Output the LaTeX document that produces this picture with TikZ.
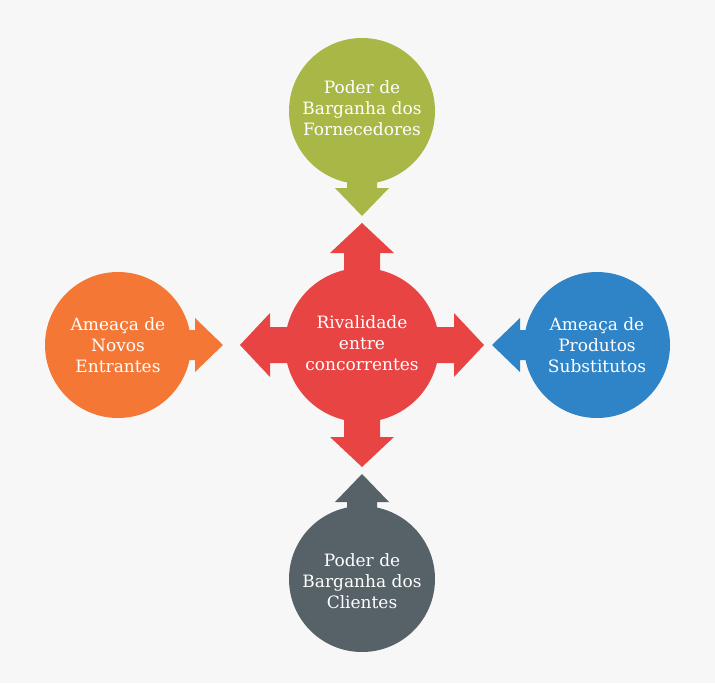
\documentclass[tikz,border=0pt]{standalone}
\usepackage{fontspec}
\setmainfont{DejaVu Serif}
\definecolor{bgc}{HTML}{F7F7F7}
\definecolor{cgreen}{HTML}{A9B747}
\definecolor{cred}{HTML}{E84444}
\definecolor{corange}{HTML}{F47735}
\definecolor{cblue}{HTML}{2F84C8}
\definecolor{cgrey}{HTML}{576168}
\newcommand{\forcearrow}[7]{% node, angle, start, base, tip, stem hw, head hw
  \begin{scope}[shift={(#1)}, rotate=#2]
    \fill (#3,-#6) -- (#4,-#6) -- (#4,-#7) -- (#5,0) -- (#4,#7) -- (#4,#6) -- (#3,#6) -- cycle;
  \end{scope}}
\begin{document}
\begin{tikzpicture}[x=1pt,y=-1pt,
  force/.style={circle, minimum size=146pt, inner sep=0pt},
  rival/.style={force, minimum size=154pt},
  label/.style={text=white, align=center, font=\fontsize{17}{21}\selectfont}]
\fill[bgc] (0,0) rectangle (715,683);
\useasboundingbox (0,0) rectangle (715,683);
\node[force, fill=cgreen] (forn) at (362,111) {};
\node[force, fill=cgrey] (cli) at (362,579) {};
\node[force, fill=corange] (novos) at (118,345) {};
\node[force, fill=cblue] (subs) at (597,345) {};
\node[rival, fill=cred] (riv) at (362,345) {};
\begin{scope}[cgreen] \forcearrow{forn}{-90}{65}{77}{105}{15}{27} \end{scope}
\begin{scope}[cgrey] \forcearrow{cli}{90}{65}{77}{105}{15}{27} \end{scope}
\begin{scope}[corange] \forcearrow{novos}{0}{65}{77}{105}{15}{27} \end{scope}
\begin{scope}[cblue] \forcearrow{subs}{180}{65}{77}{105}{15}{27} \end{scope}
\begin{scope}[cred]
  \forcearrow{riv}{90}{70}{92}{122}{18}{32}
  \forcearrow{riv}{-90}{70}{92}{122}{18}{32}
  \forcearrow{riv}{0}{70}{92}{122}{18}{32}
  \forcearrow{riv}{180}{70}{92}{122}{18}{32}
\end{scope}
\node[label] (fornt) at ([yshift=3pt]forn.center) {Poder de\\Barganha dos\\Fornecedores};
\node[label] (clit) at ([yshift=-2pt]cli.center) {Poder de\\Barganha dos\\Clientes};
\node[label] (novost) at (novos.center) {Ameaça de\\Novos\\Entrantes};
\node[label] (subst) at (subs.center) {Ameaça de\\Produtos\\Substitutos};
\node[label] (rivt) at ([yshift=2pt]riv.center) {Rivalidade\\entre\\concorrentes};
\end{tikzpicture}
\end{document}
